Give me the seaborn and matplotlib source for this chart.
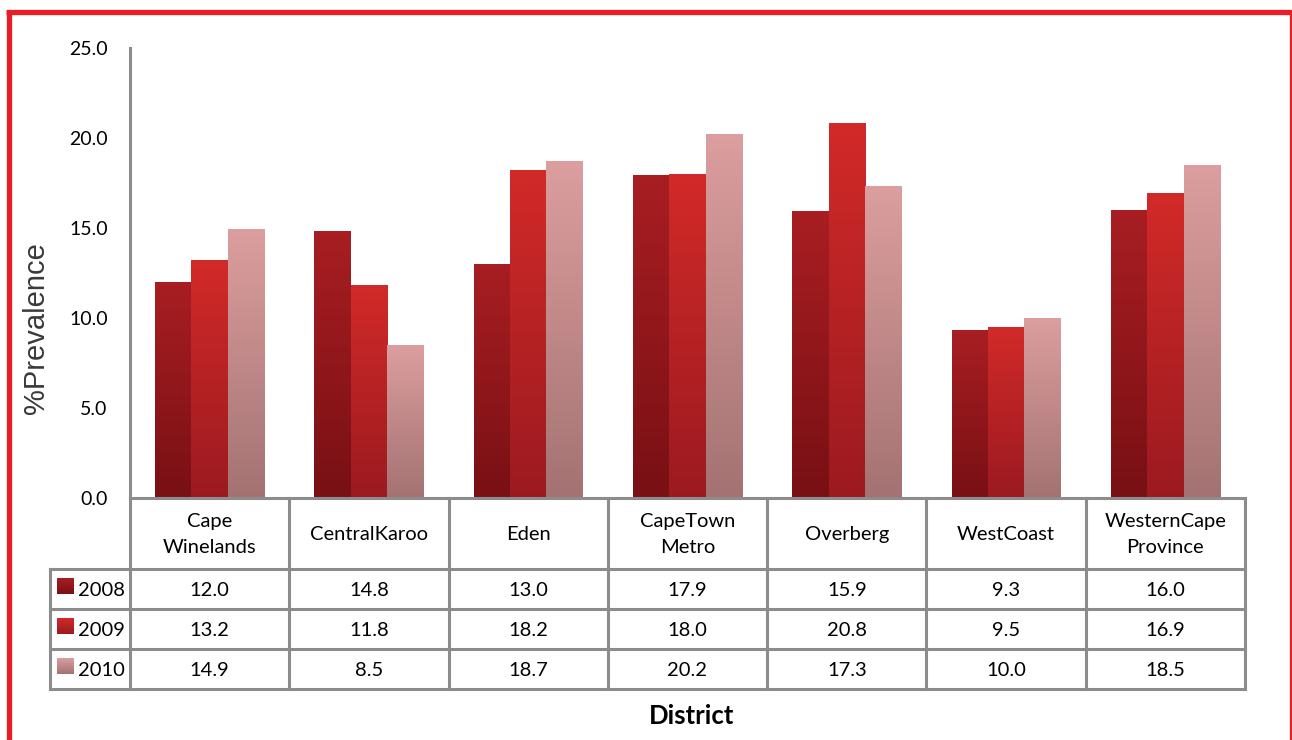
import numpy as np
import pandas as pd
import matplotlib
matplotlib.use("Agg")
import matplotlib.pyplot as plt
import seaborn as sns
from matplotlib.colors import LinearSegmentedColormap

# ---------------- data ----------------
districts = ["Cape Winelands", "CentralKaroo", "Eden", "CapeTown Metro",
             "Overberg", "WestCoast", "WesternCape Province"]
header_labels = ["Cape\nWinelands", "CentralKaroo", "Eden", "CapeTown\nMetro",
                 "Overberg", "WestCoast", "WesternCape\nProvince"]
years = ["2008", "2009", "2010"]
v2008 = [12.0, 14.8, 13.0, 17.9, 15.9, 9.3, 16.0]
v2009 = [13.2, 11.8, 18.2, 18.0, 20.8, 9.5, 16.9]
v2010 = [14.9, 8.5, 18.7, 20.2, 17.3, 10.0, 18.5]
yticks = [0, 5, 10, 15, 20, 25]

values = {"2008": v2008, "2009": v2009, "2010": v2010}
df = pd.DataFrame({
    "District": districts * 3,
    "Year": np.repeat(years, len(districts)),
    "Prevalence": v2008 + v2009 + v2010,
})

top_colors = ["#A81E22", "#D22A28", "#DC9E9E"]
bot_colors = ["#781014", "#9B1A20", "#A47272"]

# ---------------- style ----------------
sns.set_style("white")
plt.rcParams["font.family"] = ["Lato", "DejaVu Sans"]

W, H = 1292, 740
fig = plt.figure(figsize=(W / 100, H / 100), dpi=100)
fig.patch.set_facecolor("white")

ax = fig.add_axes([130 / W, 1 - 498 / H, 1115 / W, 450 / H])
sns.barplot(data=df, x="District", y="Prevalence", hue="Year",
            order=districts, hue_order=years, palette=top_colors,
            width=0.685, saturation=1, legend=False, errorbar=None, ax=ax)

grad = np.linspace(0, 1, 256).reshape(-1, 1)
cmaps = [LinearSegmentedColormap.from_list(f"g{i}", [bot_colors[i], top_colors[i]])
         for i in range(3)]
for ci, cont in enumerate(ax.containers):
    for bar in cont:
        x0, w, h = bar.get_x(), bar.get_width(), bar.get_height()
        ax.imshow(grad, extent=[x0, x0 + w, 0, h], origin="lower",
                  cmap=cmaps[ci], aspect="auto", interpolation="bilinear",
                  zorder=bar.get_zorder() + 0.1)
        bar.set_alpha(0)

ax.set_xlim(-0.5, len(districts) - 0.5)
ax.set_ylim(0, 25)
ax.set_xticks([])
ax.set_yticks(yticks)
ax.set_yticklabels([f"{t:.1f}" for t in yticks], fontsize=14)
ax.tick_params(axis="y", length=6, width=2.2, color="#8C8C8C",
               labelcolor="black", pad=10)
ax.set_xlabel("")
ax.set_ylabel("")
for s in ["top", "right"]:
    ax.spines[s].set_visible(False)
for s in ["left", "bottom"]:
    ax.spines[s].set_color("#8C8C8C")
    ax.spines[s].set_linewidth(2.2)
ax.set_facecolor("none")

# ---------------- overlay (table, labels, border) ----------------
ov = fig.add_axes([0, 0, 1, 1], facecolor="none")
ov.set_xlim(0, W)
ov.set_ylim(H, 0)
ov.axis("off")

bx = [ax.transData.transform((x, 0))[0] for x in np.arange(-0.5, len(districts), 1.0)]
y_axis = H - ax.transData.transform((0, 0))[1]
header_bottom = 569
row_bottoms = [609, 649, 689]
row_tops = [header_bottom] + row_bottoms[:-1]
legend_left = 50
lc, lw = "#8C8C8C", 2.2

for x in bx:
    ov.plot([x, x], [y_axis, row_bottoms[-1]], color=lc, lw=lw, solid_capstyle="projecting")
ov.plot([legend_left, legend_left], [header_bottom, row_bottoms[-1]], color=lc, lw=lw,
        solid_capstyle="projecting")
for y in [header_bottom] + row_bottoms:
    ov.plot([legend_left, bx[-1]], [y, y], color=lc, lw=lw, solid_capstyle="projecting")

centers = [(bx[i] + bx[i + 1]) / 2 for i in range(len(districts))]
for cx, lab in zip(centers, header_labels):
    ov.text(cx, (y_axis + header_bottom) / 2 + 1, lab, ha="center", va="center",
            fontsize=14.5, linespacing=1.6, color="black")

for ri, yr in enumerate(years):
    yc = (row_tops[ri] + row_bottoms[ri]) / 2
    for cx, v in zip(centers, values[yr]):
        ov.text(cx, yc + 1, f"{v:.1f}", ha="center", va="center", fontsize=14.5, color="black")
    ov.imshow(grad, extent=[57, 74, yc - 3 + 8, yc - 3 - 8], origin="lower",
              cmap=cmaps[ri], aspect="auto", interpolation="bilinear")
    ov.text(78, yc + 1, yr, ha="left", va="center", fontsize=14.5, color="black")

ov.text(36, 328, "%Prevalence", rotation=90, ha="center", va="center",
        fontsize=21, family=["Liberation Sans", "DejaVu Sans"], color="#3A3A3A")
ov.text(692, 716, "District", ha="center", va="center", fontsize=18.5,
        fontweight="bold", color="black")

# red frame
red = "#ED1C24"
ov.plot([8.5, 8.5], [12, H + 10], color=red, lw=3.8, solid_capstyle="butt")
ov.plot([6, W + 5], [12, 12], color=red, lw=3.8, solid_capstyle="butt")
ov.plot([1291.5, 1291.5], [10, H + 10], color=red, lw=3.8, solid_capstyle="butt")

ov.set_xlim(0, W)
ov.set_ylim(H, 0)

fig.savefig("out.png", dpi=100)
